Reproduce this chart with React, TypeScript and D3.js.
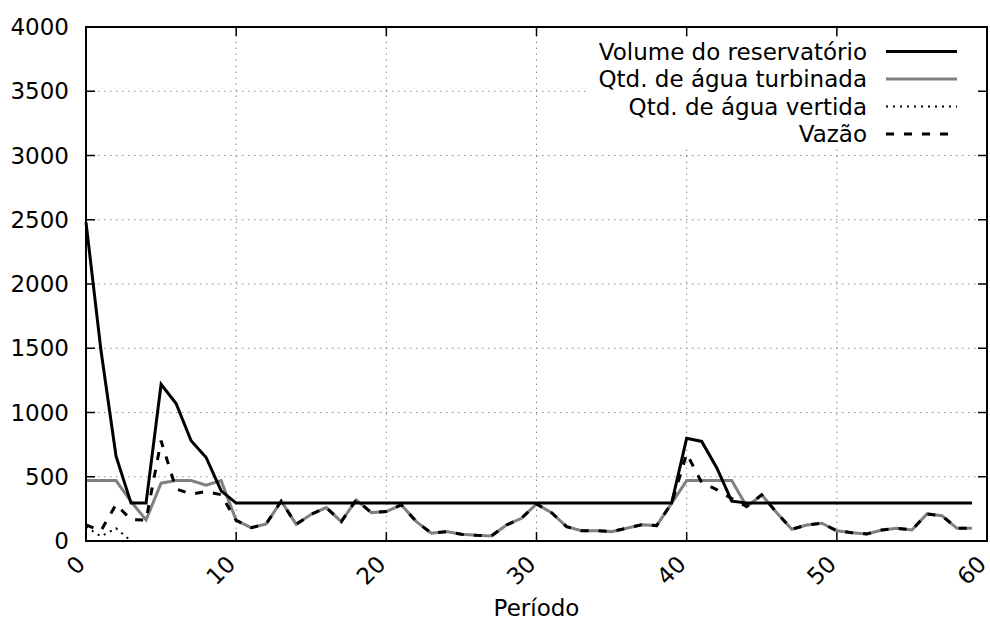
import React from "react";
import * as d3 from "d3";

const periods: number[] = d3.range(0, 60);

const volume: number[] = [
  2480, 1480, 660, 295, 295, 1220, 1070, 780, 650, 390,
  295, 295, 295, 295, 295, 295, 295, 295, 295, 295,
  295, 295, 295, 295, 295, 295, 295, 295, 295, 295,
  295, 295, 295, 295, 295, 295, 295, 295, 295, 295,
  800, 775, 570, 310, 295, 295, 295, 295, 295, 295,
  295, 295, 295, 295, 295, 295, 295, 295, 295, 295,
];

const turbinada: number[] = [
  470, 470, 470, 307, 164, 450, 470, 470, 435, 470,
  160, 104, 133, 310, 130, 208, 260, 151, 320, 221,
  229, 281, 151, 60, 73, 52, 44, 39, 125, 177,
  288, 221, 112, 80, 80, 73, 99, 127, 120, 294,
  470, 470, 470, 470, 268, 359, 220, 91, 125, 138,
  80, 65, 55, 86, 99, 86, 211, 197, 99, 99,
];

const vertida: number[] = [
  110, 35, 100, 0, 0, 0, 0, 0, 0, 0,
  0, 0, 0, 0, 0, 0, 0, 0, 0, 0,
  0, 0, 0, 0, 0, 0, 0, 0, 0, 0,
  0, 0, 0, 0, 0, 0, 0, 0, 0, 0,
  0, 0, 0, 0, 0, 0, 0, 0, 0, 0,
  0, 0, 0, 0, 0, 0, 0, 0, 0, 0,
];

const vazao: number[] = [
  125, 80, 285, 165, 164, 780, 405, 365, 385, 360,
  160, 104, 133, 310, 130, 208, 260, 151, 320, 221,
  229, 281, 151, 60, 73, 52, 44, 39, 125, 177,
  288, 221, 112, 80, 80, 73, 99, 127, 120, 294,
  680, 455, 400, 330, 268, 359, 220, 91, 125, 138,
  80, 65, 55, 86, 99, 86, 211, 197, 99, 99,
];

const xTicks: number[] = [0, 10, 20, 30, 40, 50, 60];
const yTicks: number[] = [0, 500, 1000, 1500, 2000, 2500, 3000, 3500, 4000];

const seriesNames: string[] = [
  "Volume do reservatório",
  "Qtd. de água turbinada",
  "Qtd. de água vertida",
  "Vazão",
];

const W = 990;
const H = 623;
const left = 86;
const right = 987;
const top = 27;
const bottom = 541;
const FONT = "DejaVu Sans, sans-serif";
const FS = 23;

export default function App() {
  const x = d3.scaleLinear().domain([0, 60]).range([left, right]);
  const y = d3.scaleLinear().domain([0, 4000]).range([bottom, top]);

  const line = (vals: number[]) =>
    d3
      .line<number>()
      .x((_, i) => x(periods[i]))
      .y((v) => y(v))(vals) || "";

  const styles = [
    { data: volume, stroke: "#000", width: 3, dash: undefined as string | undefined },
    { data: turbinada, stroke: "#808080", width: 3, dash: undefined },
    { data: vertida, stroke: "#000", width: 2, dash: "2,5" },
    { data: vazao, stroke: "#000", width: 3, dash: "8,10" },
  ];

  const tickLen = 9;
  const rowY = [51.5, 79, 106.5, 134];

  return (
    <svg
      width={W}
      height={H}
      style={{ position: "absolute", left: 0, top: 0, background: "#fff" }}
      fontFamily={FONT}
    >
      <rect x={0} y={0} width={W} height={H} fill="#fff" />
      {/* grid */}
      {xTicks
        .filter((t) => t > 0 && t < 60)
        .map((t) => (
          <line
            key={"gx" + t}
            x1={x(t)}
            x2={x(t)}
            y1={bottom}
            y2={top}
            stroke="#888"
            strokeWidth={1}
            strokeDasharray="1.5,4.5"
          />
        ))}
      {yTicks
        .filter((t) => t > 0 && t < 4000)
        .map((t) => (
          <line
            key={"gy" + t}
            x1={left}
            x2={right}
            y1={y(t)}
            y2={y(t)}
            stroke="#888"
            strokeWidth={1}
            strokeDasharray="1.5,4.5"
          />
        ))}
      {/* legend background */}
      <rect x={586} y={37} width={390} height={110} fill="#fff" />
      {/* ticks */}
      {xTicks.map((t) => (
        <g key={"tx" + t}>
          <line x1={x(t)} x2={x(t)} y1={bottom} y2={bottom - tickLen} stroke="#000" strokeWidth={1.5} />
          <line x1={x(t)} x2={x(t)} y1={top} y2={top + tickLen} stroke="#000" strokeWidth={1.5} />
          <text
            transform={`translate(${x(t) - 5},${bottom + 19}) rotate(-45)`}
            textAnchor="end"
            dominantBaseline="central"
            fontSize={FS}
            fill="#000"
          >
            {t}
          </text>
        </g>
      ))}
      {yTicks.map((t) => (
        <g key={"ty" + t}>
          <line x1={left} x2={left + tickLen} y1={y(t)} y2={y(t)} stroke="#000" strokeWidth={1.5} />
          <line x1={right} x2={right - tickLen} y1={y(t)} y2={y(t)} stroke="#000" strokeWidth={1.5} />
          <text x={69} y={y(t)} textAnchor="end" dominantBaseline="central" fontSize={FS} fill="#000">
            {t}
          </text>
        </g>
      ))}
      {/* data */}
      {[1, 0, 2, 3].map((i) => (
        <path
          key={"s" + i}
          d={line(styles[i].data)}
          fill="none"
          stroke={styles[i].stroke}
          strokeWidth={styles[i].width}
          strokeDasharray={styles[i].dash}
          strokeLinejoin="miter"
        />
      ))}
      {/* border */}
      <rect x={left} y={top} width={right - left} height={bottom - top} fill="none" stroke="#000" strokeWidth={2} />
      {/* legend */}
      {seriesNames.map((name, i) => (
        <g key={"lg" + i}>
          <text x={867} y={rowY[i]} textAnchor="end" dominantBaseline="central" fontSize={FS} fill="#000">
            {name}
          </text>
          <line
            x1={886}
            x2={957}
            y1={rowY[i]}
            y2={rowY[i]}
            stroke={styles[i].stroke}
            strokeWidth={styles[i].width}
            strokeDasharray={styles[i].dash}
          />
        </g>
      ))}
      <text x={(left + right) / 2} y={616} textAnchor="middle" fontSize={FS} fill="#000">
        Período
      </text>
    </svg>
  );
}
